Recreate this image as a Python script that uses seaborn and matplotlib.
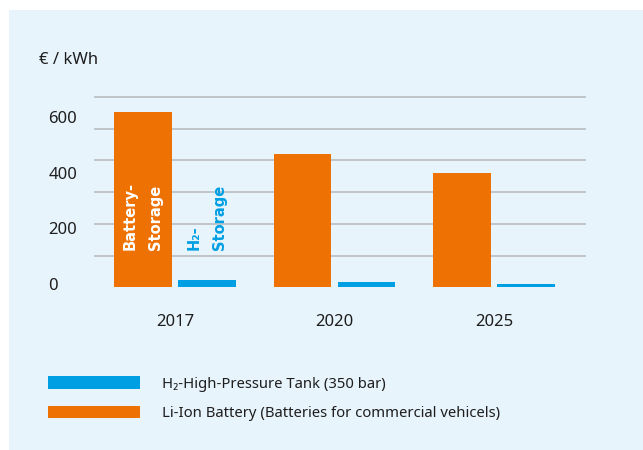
import numpy as np
import pandas as pd
import seaborn as sns
import matplotlib
matplotlib.use("Agg")
import matplotlib.pyplot as plt
import matplotlib.transforms as mtransforms
from matplotlib.patches import Rectangle, Patch

# ---- data ----
years = ["2017", "2020", "2025"]
battery_cost = [628, 478, 410]
h2_cost = [25, 18, 11]
battery_label = "Li-Ion Battery (Batteries for commercial vehicels)"
h2_label = "H\u2082-High-Pressure Tank (350 bar)"
y_tick_values = [0, 200, 400, 600]
y_tick_labels = ["0", "200", "400", "600"]
unit_label = "\u20ac / kWh"

ORANGE = "#EE7203"
BLUE = "#009FE3"
PANEL = "#E8F4FC"
GRID = "#BCC0C4"
TEXT = "#1E1E1E"

df = pd.DataFrame({
    "year": years * 2,
    "cost": battery_cost + h2_cost,
    "tech": [battery_label] * 3 + [h2_label] * 3,
})

sns.set_theme(style="white")
plt.rcParams["font.family"] = ["Noto Sans", "DejaVu Sans"]

W, H = 643, 450
fig = plt.figure(figsize=(W / 100, H / 100), dpi=100, facecolor="white")
fig.patches.append(Rectangle((9 / W, 0), 1 - 9 / W, (H - 10) / H,
                             transform=fig.transFigure, facecolor=PANEL,
                             edgecolor="none", zorder=-10))

ax_left, ax_right = 94 / W, 586 / W
ax_bottom, ax_top = (H - 288.1) / H, (H - 94.6) / H
ax = fig.add_axes([ax_left, ax_bottom, ax_right - ax_left, ax_top - ax_bottom])
ax.set_facecolor("none")

sns.barplot(data=df, x="year", y="cost", hue="tech",
            hue_order=[battery_label, h2_label], palette=[ORANGE, BLUE],
            width=0.8, gap=0.1, saturation=1, legend=False, ax=ax, zorder=3,
            linewidth=0, edgecolor="none")

ax.set_xlim(-0.508, 2.577)
ax.set_ylim(-3, 690)
for s in ax.spines.values():
    s.set_visible(False)

grid_pos = np.linspace(0, 682, 7)
ax.set_yticks(grid_pos, minor=True)
ax.grid(False)
ax.grid(which="minor", axis="y", color=GRID, lw=1.3)
ax.set_axisbelow(True)

ax.set_yticks(y_tick_values)
ax.set_yticklabels(y_tick_labels)
ax.tick_params(axis="y", which="both", length=0, pad=33, labelsize=12, colors=TEXT)
for lab in ax.get_yticklabels():
    lab.set_horizontalalignment("left")
    lab.set_transform(lab.get_transform() +
                      mtransforms.ScaledTranslation(0, 3 / 100, fig.dpi_scale_trans))
ax.tick_params(axis="x", length=0, pad=19, labelsize=12, colors=TEXT)
ax.set_xlabel("")
ax.set_ylabel("")

# in-bar annotations
bat_x = ax.containers[0][0].get_x() + ax.containers[0][0].get_width() / 2
h2_x = ax.containers[1][0].get_x() + ax.containers[1][0].get_width() / 2
bold_family = ["DejaVu Sans"]
ax.text(bat_x, 134, "Battery-\nStorage", rotation=90, rotation_mode="anchor",
        ha="left", va="center", color="white", fontsize=10.5, fontweight="bold",
        family=bold_family, linespacing=1.85, zorder=5)
ax.text(h2_x, 134, "H\u2082-\nStorage", rotation=90, rotation_mode="anchor",
        ha="left", va="center", color=BLUE, fontsize=10.5, fontweight="bold",
        family=bold_family, linespacing=1.85, zorder=5)

fig.text(39 / W, (H - 60) / H, unit_label, ha="left", va="center",
         fontsize=12, color=TEXT)

handles = [Patch(facecolor=BLUE, edgecolor="none"),
           Patch(facecolor=ORANGE, edgecolor="none")]
leg = fig.legend(handles, [h2_label, battery_label], loc="upper left",
                 bbox_to_anchor=(48 / W, (H - 376) / H), frameon=False,
                 fontsize=10.7, handlelength=6.2, handleheight=0.95,
                 handletextpad=1.45, labelspacing=0.95, borderpad=0,
                 borderaxespad=0)
for t in leg.get_texts():
    t.set_color(TEXT)

fig.savefig("out.png", dpi=100, facecolor="white")
